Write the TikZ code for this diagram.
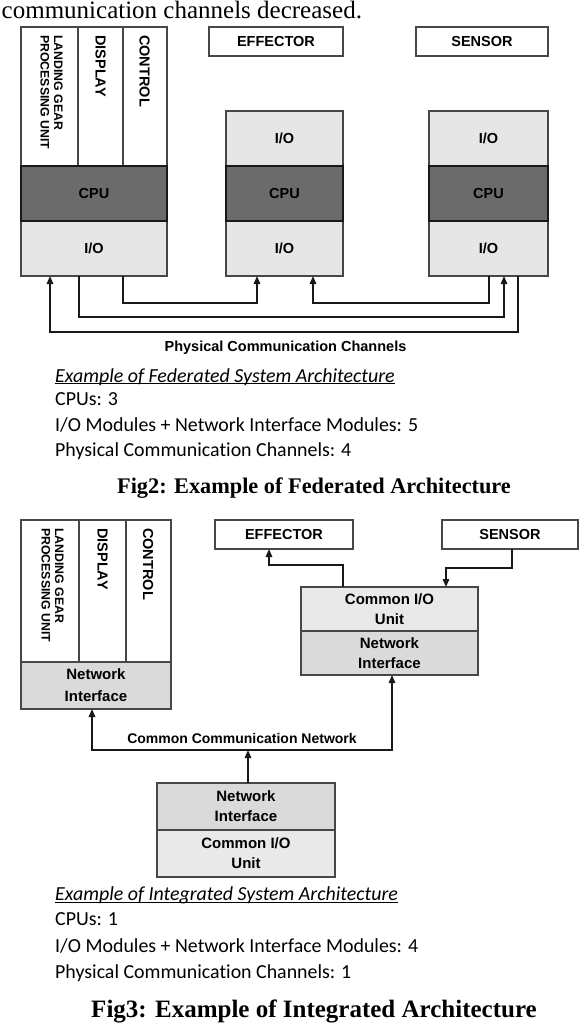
\documentclass[tikz,border=0pt]{standalone}
\usepackage{fontspec}
\newfontfamily\dgf{Liberation Sans}
\newfontfamily\txf[Ligatures=NoCommon]{Carlito}
\newfontfamily\cpf{Liberation Serif}
\usetikzlibrary{arrows.meta}
\definecolor{cpu}{HTML}{6B6B6B}
\definecolor{io}{HTML}{E6E6E6}
\definecolor{ni}{HTML}{DADADA}
\definecolor{cio}{HTML}{E9E9E9}
\definecolor{bdr}{HTML}{474747}
\newcommand\myul[1]{\setbox0\hbox{#1}\rlap{\rule[-2.2pt]{\wd0}{1.2pt}}\box0}
\begin{document}
\begin{tikzpicture}[x=1pt,y=-1pt,
  band/.style={draw=bdr, line width=1.3pt, inner sep=0pt, outer sep=0pt, anchor=north west,
    font=\dgf\bfseries\fontsize{14.5}{20}\selectfont, align=center},
  cpuband/.style={band, fill=cpu, draw=black!90, line width=1.6pt},
  rotlab/.style={rotate=-90, anchor=west, inner sep=0pt, align=left,
    font=\dgf\bfseries\fontsize{14.5}{17}\selectfont},
  lgl/.style={rotlab, font=\dgf\bfseries\fontsize{12.3}{13.5}\selectfont},
  conn/.style={draw=black!90, line width=1.5pt, -{Triangle[length=8pt,width=6.5pt]}},
  conn2/.style={draw=black!90, line width=1.5pt, {Triangle[length=8pt,width=6.5pt]}-{Triangle[length=8pt,width=6.5pt]}},
  lab/.style={inner sep=0pt, anchor=base, font=\dgf\bfseries\fontsize{14.5}{17}\selectfont},
  txt/.style={inner sep=0pt, anchor=base west, font=\txf\fontsize{19.9}{24}\selectfont},
  figcap/.style={inner sep=0pt, anchor=base, font=\cpf\bfseries}
]
\useasboundingbox[fill=white] (0,0) rectangle (584,1026);

% top line of text
\node[inner sep=0pt, anchor=base west, font=\cpf\fontsize{25}{30}\selectfont] (top) at (1.5,18) {communication channels decreased.};

% ---------- Fig 2 ----------
\node[band, fill=white, minimum width=57, minimum height=139] (c1) at (21,27) {};
\node[band, fill=white, minimum width=45, minimum height=139] (c2) at (78,27) {};
\node[band, fill=white, minimum width=44, minimum height=139] (c3) at (123,27) {};
\node[band, fill=io, minimum width=146, minimum height=55] (lio) at (21,221) {I/O};
\node[cpuband, minimum width=146, minimum height=55] (lcpu) at (21,166) {CPU};

\node[lgl] (lg1) at (51.5,35) {LANDING GEAR\\PROCESSING UNIT};
\node[rotlab] (dsp1) at (100.5,35) {DISPLAY};
\node[rotlab] (ctl1) at (144.5,35) {CONTROL};

\node[band, fill=io, minimum width=117, minimum height=55] (mio1) at (226,111) {I/O};
\node[band, fill=io, minimum width=117, minimum height=55] (mio2) at (226,221) {I/O};
\node[cpuband, minimum width=117, minimum height=55] (mcpu) at (226,166) {CPU};

\node[band, fill=io, minimum width=119, minimum height=55] (rio1) at (429,111) {I/O};
\node[band, fill=io, minimum width=119, minimum height=55] (rio2) at (429,221) {I/O};
\node[cpuband, minimum width=119, minimum height=55] (rcpu) at (429,166) {CPU};

\node[band, fill=white, minimum width=134, minimum height=29] (eff1) at (209,27) {EFFECTOR};
\node[band, fill=white, minimum width=132, minimum height=29] (sen1) at (416,27) {SENSOR};

\coordinate (l1) at ([xshift=29pt]lio.south west);
\coordinate (l2) at ([xshift=58pt]lio.south west);
\coordinate (l3) at ([xshift=102pt]lio.south west);
\coordinate (m1) at ([xshift=31pt]mio2.south west);
\coordinate (m2) at ([xshift=87pt]mio2.south west);
\coordinate (r1) at ([xshift=89pt]rio2.south west);
\coordinate (r2) at ([xshift=75pt]rio2.south west);
\coordinate (r3) at ([xshift=60pt]rio2.south west);
\coordinate (bus1) at (0,332);
\coordinate (bus2) at (0,317);
\coordinate (bus3) at (0,303);

\draw[conn] (r1) -- (r1 |- bus1) -| (l1);
\draw[conn] (l2) -- (l2 |- bus2) -| (r2);
\draw[conn] (l3) -- (l3 |- bus3) -| (m1);
\draw[conn] (r3) -- (r3 |- bus3) -| (m2);

\node[lab] (pcc) at (285.5,351) {Physical Communication Channels};

\node[txt] (t1) at (55,382) {\myul{\itshape Example of Federated System Architecture}};
\node[txt] (t2) at (55,405) {CPUs: 3};
\node[txt] (t3) at (55,431) {I/O Modules + Network Interface Modules: 5};
\node[txt] (t4) at (55,456) {Physical Communication Channels: 4};
\node[figcap, font=\cpf\bfseries\fontsize{22.3}{26}\selectfont] (fig2) at (314,493) {Fig2: Example of Federated Architecture};

% ---------- Fig 3 ----------
\node[band, fill=white, minimum width=58, minimum height=142] (c4) at (21,520) {};
\node[band, fill=white, minimum width=47, minimum height=142] (c5) at (79,520) {};
\node[band, fill=white, minimum width=45, minimum height=142] (c6) at (126,520) {};
\node[band, fill=ni, minimum width=150, minimum height=47, font=\dgf\bfseries\fontsize{15}{22}\selectfont] (lni) at (21,662) {Network\\Interface};

\node[lgl] (lg2) at (52.5,528) {LANDING GEAR\\PROCESSING UNIT};
\node[rotlab] (dsp2) at (102.5,528) {DISPLAY};
\node[rotlab] (ctl2) at (148,528) {CONTROL};

\node[band, fill=white, minimum width=138, minimum height=29] (eff2) at (215,520) {EFFECTOR};
\node[band, fill=white, minimum width=136, minimum height=29] (sen2) at (442,520) {SENSOR};

\node[band, fill=cio, minimum width=177, minimum height=44, font=\dgf\bfseries\fontsize{15}{20}\selectfont] (cio1) at (301,587) {Common I/O\\Unit};
\node[band, fill=ni, minimum width=177, minimum height=44, font=\dgf\bfseries\fontsize{15}{20}\selectfont] (cni) at (301,631) {Network\\Interface};

\node[band, fill=ni, minimum width=178, minimum height=47, font=\dgf\bfseries\fontsize{15}{20}\selectfont] (bni) at (157,783) {Network\\Interface};
\node[band, fill=cio, minimum width=178, minimum height=47, font=\dgf\bfseries\fontsize{15}{20}\selectfont] (bcio) at (157,830) {Common I/O\\Unit};

\coordinate (teff) at ([xshift=42pt]cio1.north west);
\coordinate (ein) at ([xshift=54pt]eff2.south west);
\coordinate (lvE) at (0,565);
\coordinate (sout) at ([xshift=70pt]sen2.south west);
\coordinate (sin) at ([xshift=145pt]cio1.north west);
\coordinate (lvS) at (0,568);
\coordinate (ltap) at ([xshift=71pt]lni.south west);
\coordinate (rtap) at ([xshift=91pt]cni.south west);
\coordinate (netlvl) at (0,750);
\coordinate (btap) at ([xshift=2pt]bni.north);

\draw[conn] (teff) -- (teff |- lvE) -| (ein);
\draw[conn] (sout) -- (sout |- lvS) -| (sin);
\draw[conn2] (ltap) |- (rtap |- netlvl) -- (rtap);
\draw[conn] (btap) -- (btap |- netlvl);

\node[lab, font=\dgf\bfseries\fontsize{14}{17}\selectfont] (ccn) at (242,743) {Common Communication Network};

\node[txt] (u1) at (55,900.5) {\myul{\itshape Example of Integrated System Architecture}};
\node[txt] (u2) at (55,925) {CPUs: 1};
\node[txt] (u3) at (55,952) {I/O Modules + Network Interface Modules: 4};
\node[txt] (u4) at (55,978) {Physical Communication Channels: 1};
\node[figcap, font=\cpf\bfseries\fontsize{25}{30}\selectfont] (fig3) at (314,1017) {Fig3: Example of Integrated Architecture};
\end{tikzpicture}
\end{document}
